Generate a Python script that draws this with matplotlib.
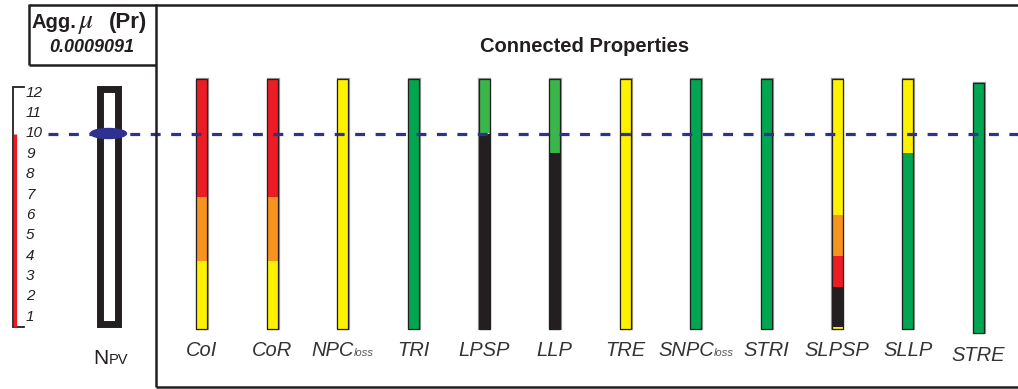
import matplotlib.pyplot as plt
from matplotlib.patches import Rectangle, Ellipse
from matplotlib.lines import Line2D

plt.rcParams['mathtext.fontset'] = 'stix'

# categories, left to right
labels = ['CoI', 'CoR', 'NPC', 'TRI', 'LPSP', 'LLP', 'TRE', 'SNPC', 'STRI', 'SLPSP', 'SLLP', 'STRE']
label_sub = ['', '', 'loss', '', '', '', '', 'loss', '', '', '', '']

# bar extents on the 1..12 level scale
bar_base = [0.40, 0.40, 0.40, 0.40, 0.40, 0.40, 0.40, 0.40, 0.40, 0.40, 0.40, 0.20]
# colour segments from bottom to top: (segment top, colour code)
segments = [
    [(3.74, 'Y'), (6.88, 'O'), (12.68, 'R')],
    [(3.74, 'Y'), (6.88, 'O'), (12.68, 'R')],
    [(12.68, 'Y')],
    [(12.68, 'G')],
    [(10.0, 'K'), (12.68, 'LG')],
    [(9.04, 'K'), (12.68, 'LG')],
    [(12.68, 'Y')],
    [(12.68, 'G')],
    [(12.68, 'G')],
    [(0.48, 'Y'), (2.46, 'K'), (3.98, 'R'), (6.0, 'O'), (12.68, 'Y')],
    [(9.04, 'G'), (12.68, 'Y')],
    [(12.50, 'G')],
]
scale_levels = list(range(1, 13))
threshold = 10          # aggregated level
agg_value = '0.0009091'

cmap = {'Y': '#fff200', 'O': '#f7941d', 'R': '#ed1c24', 'G': '#00a651',
        'LG': '#39b54a', 'K': '#231f20'}
dark = '#231f20'

fig = plt.figure(figsize=(10.18, 3.89), dpi=100)
ax = fig.add_axes([0, 0, 1, 1])
ax.axis('off')
# x: category index, y: level (pixel scale ~70.6 px per category, ~20.36 px per level)
ax.set_xlim(-201.7 / 70.6, (1018 - 201.7) / 70.6)
ax.set_ylim(10 - 255.5 / 20.36, 10 + 133.5 / 20.36)

bw = 0.156
for i, segs in enumerate(segments):
    low = bar_base[i]
    for top, c in segs:
        ax.bar(i, top - low, bottom=low, width=bw, color=cmap[c], linewidth=0, zorder=3)
        low = top
    ax.bar(i + 0.012, low - bar_base[i], bottom=bar_base[i], width=bw, fill=False,
           edgecolor='#9a9a9a', linewidth=1.6, zorder=2)
    ax.bar(i, low - bar_base[i], bottom=bar_base[i], width=bw, fill=False,
           edgecolor=dark, linewidth=0.9, zorder=4)

# category labels
r = fig.canvas.get_renderer()
for i, (lab, sub) in enumerate(zip(labels, label_sub)):
    y = -0.95 if lab != 'STRE' else -1.15
    t = ax.text(i, y, lab, fontsize=14.5, style='italic', family='Liberation Sans',
                color='#333333', ha='left', va='baseline')
    if sub:
        w1 = t.get_window_extent(r).width
        s = ax.text(i, y, sub, fontsize=8, style='italic', family='Liberation Sans',
                    color='#555555', ha='left', va='baseline')
        w2 = s.get_window_extent(r).width
        tot = (w1 + w2) / 70.6
        t.set_x(i - tot / 2)
        s.set_x(i - tot / 2 + w1 / 70.6)
    else:
        t.set_ha('center')

# threshold dashed line
ax.plot([(48 - 201.7) / 70.6, (1018 - 201.7) / 70.6], [threshold, threshold],
        color='#2e3192', linewidth=2.3, dashes=(3.1, 3.3), zorder=6)

# left level scale
sx = (26 - 201.7) / 70.6
for v in scale_levels:
    ax.text(sx, v, str(v), fontsize=11, style='italic', family='Liberation Sans',
            color=dark, ha='left', va='center')
bx = (13 - 201.7) / 70.6
tx = (24 - 201.7) / 70.6
ax.plot([tx, bx, bx, tx], [12.3, 12.3, 0.5, 0.5], color=dark, linewidth=1.3,
        solid_joinstyle='miter')
ax.plot([(15.5 - 201.7) / 70.6] * 2, [threshold, 0.5], color='#ed1c24', linewidth=2.4,
        solid_capstyle='butt')

# N_PV column
px0 = (99.5 - 201.7) / 70.6
px1 = (117.5 - 201.7) / 70.6
ax.add_patch(Rectangle((px0, 0.62), px1 - px0, 12.21 - 0.62, fill=False,
                       edgecolor=dark, linewidth=5, joinstyle='miter', zorder=5))
ax.add_patch(Ellipse(((108.5 - 201.7) / 70.6, threshold), 36 / 70.6, 10 / 20.36,
                     color='#2e3192', zorder=7))
nx = (111 - 201.7) / 70.6
n1 = ax.text(nx, -1.3, 'N', fontsize=15, family='Liberation Sans', color=dark,
             ha='left', va='baseline')
n2 = ax.text(nx, -1.3, 'PV', fontsize=10.5, family='Liberation Sans', color=dark,
             ha='left', va='baseline')
w1 = n1.get_window_extent(r).width
w2 = n2.get_window_extent(r).width
n1.set_x(nx - (w1 + w2) / 2 / 70.6)
n2.set_x(nx - (w1 + w2) / 2 / 70.6 + w1 / 70.6)

# frames (figure pixels)
W, H = 1018, 389
def fline(xs, ys, lw=1.8):
    fig.add_artist(Line2D([x / W for x in xs], [1 - y / H for y in ys],
                          color=dark, linewidth=lw, solid_capstyle='butt'))

fline([29, 1018], [4.5, 4.5])
fline([156, 156], [4, 387])
fline([156, 1018], [386.5, 386.5])
fline([29, 29], [4, 65])
fline([29, 156], [64.5, 64.5])

# aggregated value box
yb = 1 - 28 / H
fig.text(32 / W, yb, 'Agg.', fontsize=14.5, fontweight='bold', family='Liberation Sans',
         color=dark, ha='left', va='baseline')
fig.text(86 / W, yb, r'$\mathit{\mu}$', fontsize=20, color=dark, ha='center', va='baseline')
fig.text(147 / W, yb, '(Pr)', fontsize=16, fontweight='bold', family='Liberation Sans',
         color=dark, ha='right', va='baseline')
fig.text(92 / W, 1 - 47 / H, agg_value, fontsize=13, fontweight='bold', style='italic',
         family='Liberation Sans', color=dark, ha='center', va='center')

fig.text(585 / W, 1 - 46 / H, 'Connected Properties', fontsize=14.5, fontweight='bold',
         family='Liberation Sans', color=dark, ha='center', va='center')

fig.savefig('out.png', dpi=100)
